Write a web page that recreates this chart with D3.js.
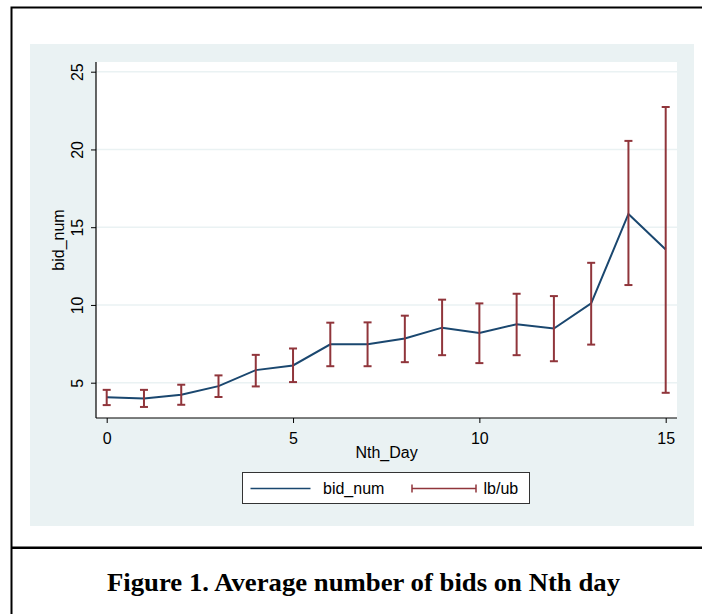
<!DOCTYPE html>
<html>
<head>
<meta charset="utf-8">
<script src="https://cdn.jsdelivr.net/npm/d3@7"></script>
<style>
  body { margin: 0; background: #fff; }
  svg { display: block; font-family: "Liberation Sans", Arial, sans-serif; }
</style>
</head>
<body>
<svg id="chart"></svg>
<script>
// data
const days = [0, 1, 2, 3, 4, 5, 6, 7, 8, 9, 10, 11, 12, 13, 14, 15];
const bidNum = [4.07, 3.99, 4.22, 4.78, 5.81, 6.11, 7.47, 7.47, 7.84, 8.54, 8.20, 8.76, 8.48, 10.10, 15.85, 13.56];
const lb = [3.56, 3.44, 3.58, 4.08, 4.76, 5.04, 6.06, 6.06, 6.32, 6.77, 6.26, 6.77, 6.38, 7.45, 11.28, 4.35];
const ub = [4.54, 4.54, 4.87, 5.47, 6.79, 7.20, 8.86, 8.88, 9.31, 10.34, 10.10, 10.72, 10.57, 12.71, 20.55, 22.73];
const xTicks = [0, 5, 10, 15];
const yTicks = [5, 10, 15, 20, 25];
const legendLabels = ["bid_num", "lb/ub"];
const caption = "Figure 1. Average number of bids on Nth day";

const width = 702;
const height = 614;
const navy = "#1a476f";
const maroon = "#90353b";
const bluishGray = "#eaf2f3";

// plot region
const plot = { left: 96, right: 677, top: 62, bottom: 418 };

const svg = d3.select("#chart")
    .attr("width", width)
    .attr("height", height);

const xScale = d3.scaleLinear().domain([0, 15]).range([106.7, 665.7]);
const yScale = d3.scaleLinear().domain([5, 25]).range([382.7, 71.7]);

//Graph region background and plot region
svg.append("rect")
    .attr("x", 30).attr("y", 44)
    .attr("width", 664).attr("height", 482)
    .attr("fill", bluishGray);

svg.append("rect")
    .attr("x", plot.left).attr("y", plot.top)
    .attr("width", plot.right - plot.left).attr("height", plot.bottom - plot.top)
    .attr("fill", "#fff");

//Grid lines
svg.append("g")
    .selectAll("line")
    .data(yTicks)
    .enter()
    .append("line")
    .attr("x1", plot.left).attr("x2", plot.right)
    .attr("y1", (d) => yScale(d)).attr("y2", (d) => yScale(d))
    .attr("stroke", bluishGray)
    .attr("stroke-width", 1.4);

//Axes
const xAxis = d3.axisBottom(xScale).tickValues(xTicks).tickSize(5).tickFormat(d3.format("d"));
const yAxis = d3.axisLeft(yScale).tickValues(yTicks).tickSize(5).tickFormat(d3.format("d"));

const xg = svg.append("g")
    .attr("transform", "translate(0," + plot.bottom + ")")
    .call(xAxis);
xg.select(".domain").remove();
xg.selectAll(".tick line").attr("stroke", "#000");
xg.selectAll(".tick text")
    .attr("y", 25.5).attr("dy", 0)
    .attr("font-size", 16).attr("fill", "#000")
    .attr("font-family", "'Liberation Sans', Arial, sans-serif");

const yg = svg.append("g")
    .attr("transform", "translate(" + plot.left + ",0)")
    .call(yAxis);
yg.select(".domain").remove();
yg.selectAll(".tick line").attr("stroke", "#000");
yg.selectAll(".tick text")
    .attr("transform", "rotate(-90)")
    .attr("x", 0).attr("y", -13).attr("dy", 0)
    .attr("text-anchor", "middle")
    .attr("font-size", 16).attr("fill", "#000")
    .attr("font-family", "'Liberation Sans', Arial, sans-serif");

//Axis lines
svg.append("line")
    .attr("x1", plot.left).attr("x2", plot.right)
    .attr("y1", plot.bottom).attr("y2", plot.bottom)
    .attr("stroke", "#000").attr("stroke-width", 1.2);
svg.append("line")
    .attr("x1", plot.left).attr("x2", plot.left)
    .attr("y1", plot.top).attr("y2", plot.bottom)
    .attr("stroke", "#000").attr("stroke-width", 1.2);

//Axis titles
svg.append("text")
    .attr("x", (plot.left + plot.right) / 2).attr("y", 458)
    .attr("text-anchor", "middle")
    .attr("font-size", 16)
    .text("Nth_Day");

svg.append("text")
    .attr("transform", "translate(64," + (plot.top + plot.bottom) / 2 + ") rotate(-90)")
    .attr("text-anchor", "middle")
    .attr("font-size", 16)
    .text("bid_num");

//Mean line
const line = d3.line()
    .x((d, i) => xScale(days[i]))
    .y((d) => yScale(d));

svg.append("path")
    .datum(bidNum)
    .attr("d", line)
    .attr("fill", "none")
    .attr("stroke", navy)
    .attr("stroke-width", 2);

//Error bars
const cap = 4;
const bars = svg.append("g")
    .attr("stroke", maroon)
    .attr("stroke-width", 2)
    .selectAll("g")
    .data(days)
    .enter()
    .append("g");

bars.append("line")
    .attr("x1", (d) => xScale(d)).attr("x2", (d) => xScale(d))
    .attr("y1", (d, i) => yScale(lb[i])).attr("y2", (d, i) => yScale(ub[i]));
bars.append("line")
    .attr("x1", (d) => xScale(d) - cap).attr("x2", (d) => xScale(d) + cap)
    .attr("y1", (d, i) => yScale(lb[i])).attr("y2", (d, i) => yScale(lb[i]));
bars.append("line")
    .attr("x1", (d) => xScale(d) - cap).attr("x2", (d) => xScale(d) + cap)
    .attr("y1", (d, i) => yScale(ub[i])).attr("y2", (d, i) => yScale(ub[i]));

//Legend
const legend = svg.append("g").attr("transform", "translate(242.5,472.5)");
legend.append("rect")
    .attr("width", 287).attr("height", 31)
    .attr("fill", "#fff")
    .attr("stroke", "#333")
    .attr("stroke-width", 1);
legend.append("line")
    .attr("x1", 8).attr("x2", 68).attr("y1", 16).attr("y2", 16)
    .attr("stroke", navy).attr("stroke-width", 1.5);
legend.append("text")
    .attr("x", 80.5).attr("y", 21.5)
    .attr("font-size", 16)
    .text(legendLabels[0]);
const le = legend.append("g").attr("stroke", maroon).attr("stroke-width", 1.5);
le.append("line").attr("x1", 169.5).attr("x2", 233.5).attr("y1", 16).attr("y2", 16);
le.append("line").attr("x1", 169.5).attr("x2", 169.5).attr("y1", 12).attr("y2", 20);
le.append("line").attr("x1", 233.5).attr("x2", 233.5).attr("y1", 12).attr("y2", 20);
legend.append("text")
    .attr("x", 241).attr("y", 21.5)
    .attr("font-size", 16)
    .text(legendLabels[1]);

//Outer frame and caption divider
svg.append("rect")
    .attr("x", 11.5).attr("y", 7.5)
    .attr("width", 720).attr("height", 640)
    .attr("fill", "none")
    .attr("stroke", "#000")
    .attr("stroke-width", 2);
svg.append("line")
    .attr("x1", 11).attr("x2", width)
    .attr("y1", 547.7).attr("y2", 547.7)
    .attr("stroke", "#000")
    .attr("stroke-width", 2.5);

svg.append("text")
    .attr("x", 363.5).attr("y", 591)
    .attr("text-anchor", "middle")
    .attr("font-family", "'Liberation Serif', 'Times New Roman', serif")
    .attr("font-weight", "bold")
    .attr("font-size", 25)
    .attr("textLength", 513)
    .attr("lengthAdjust", "spacingAndGlyphs")
    .text(caption);
</script>
</body>
</html>
